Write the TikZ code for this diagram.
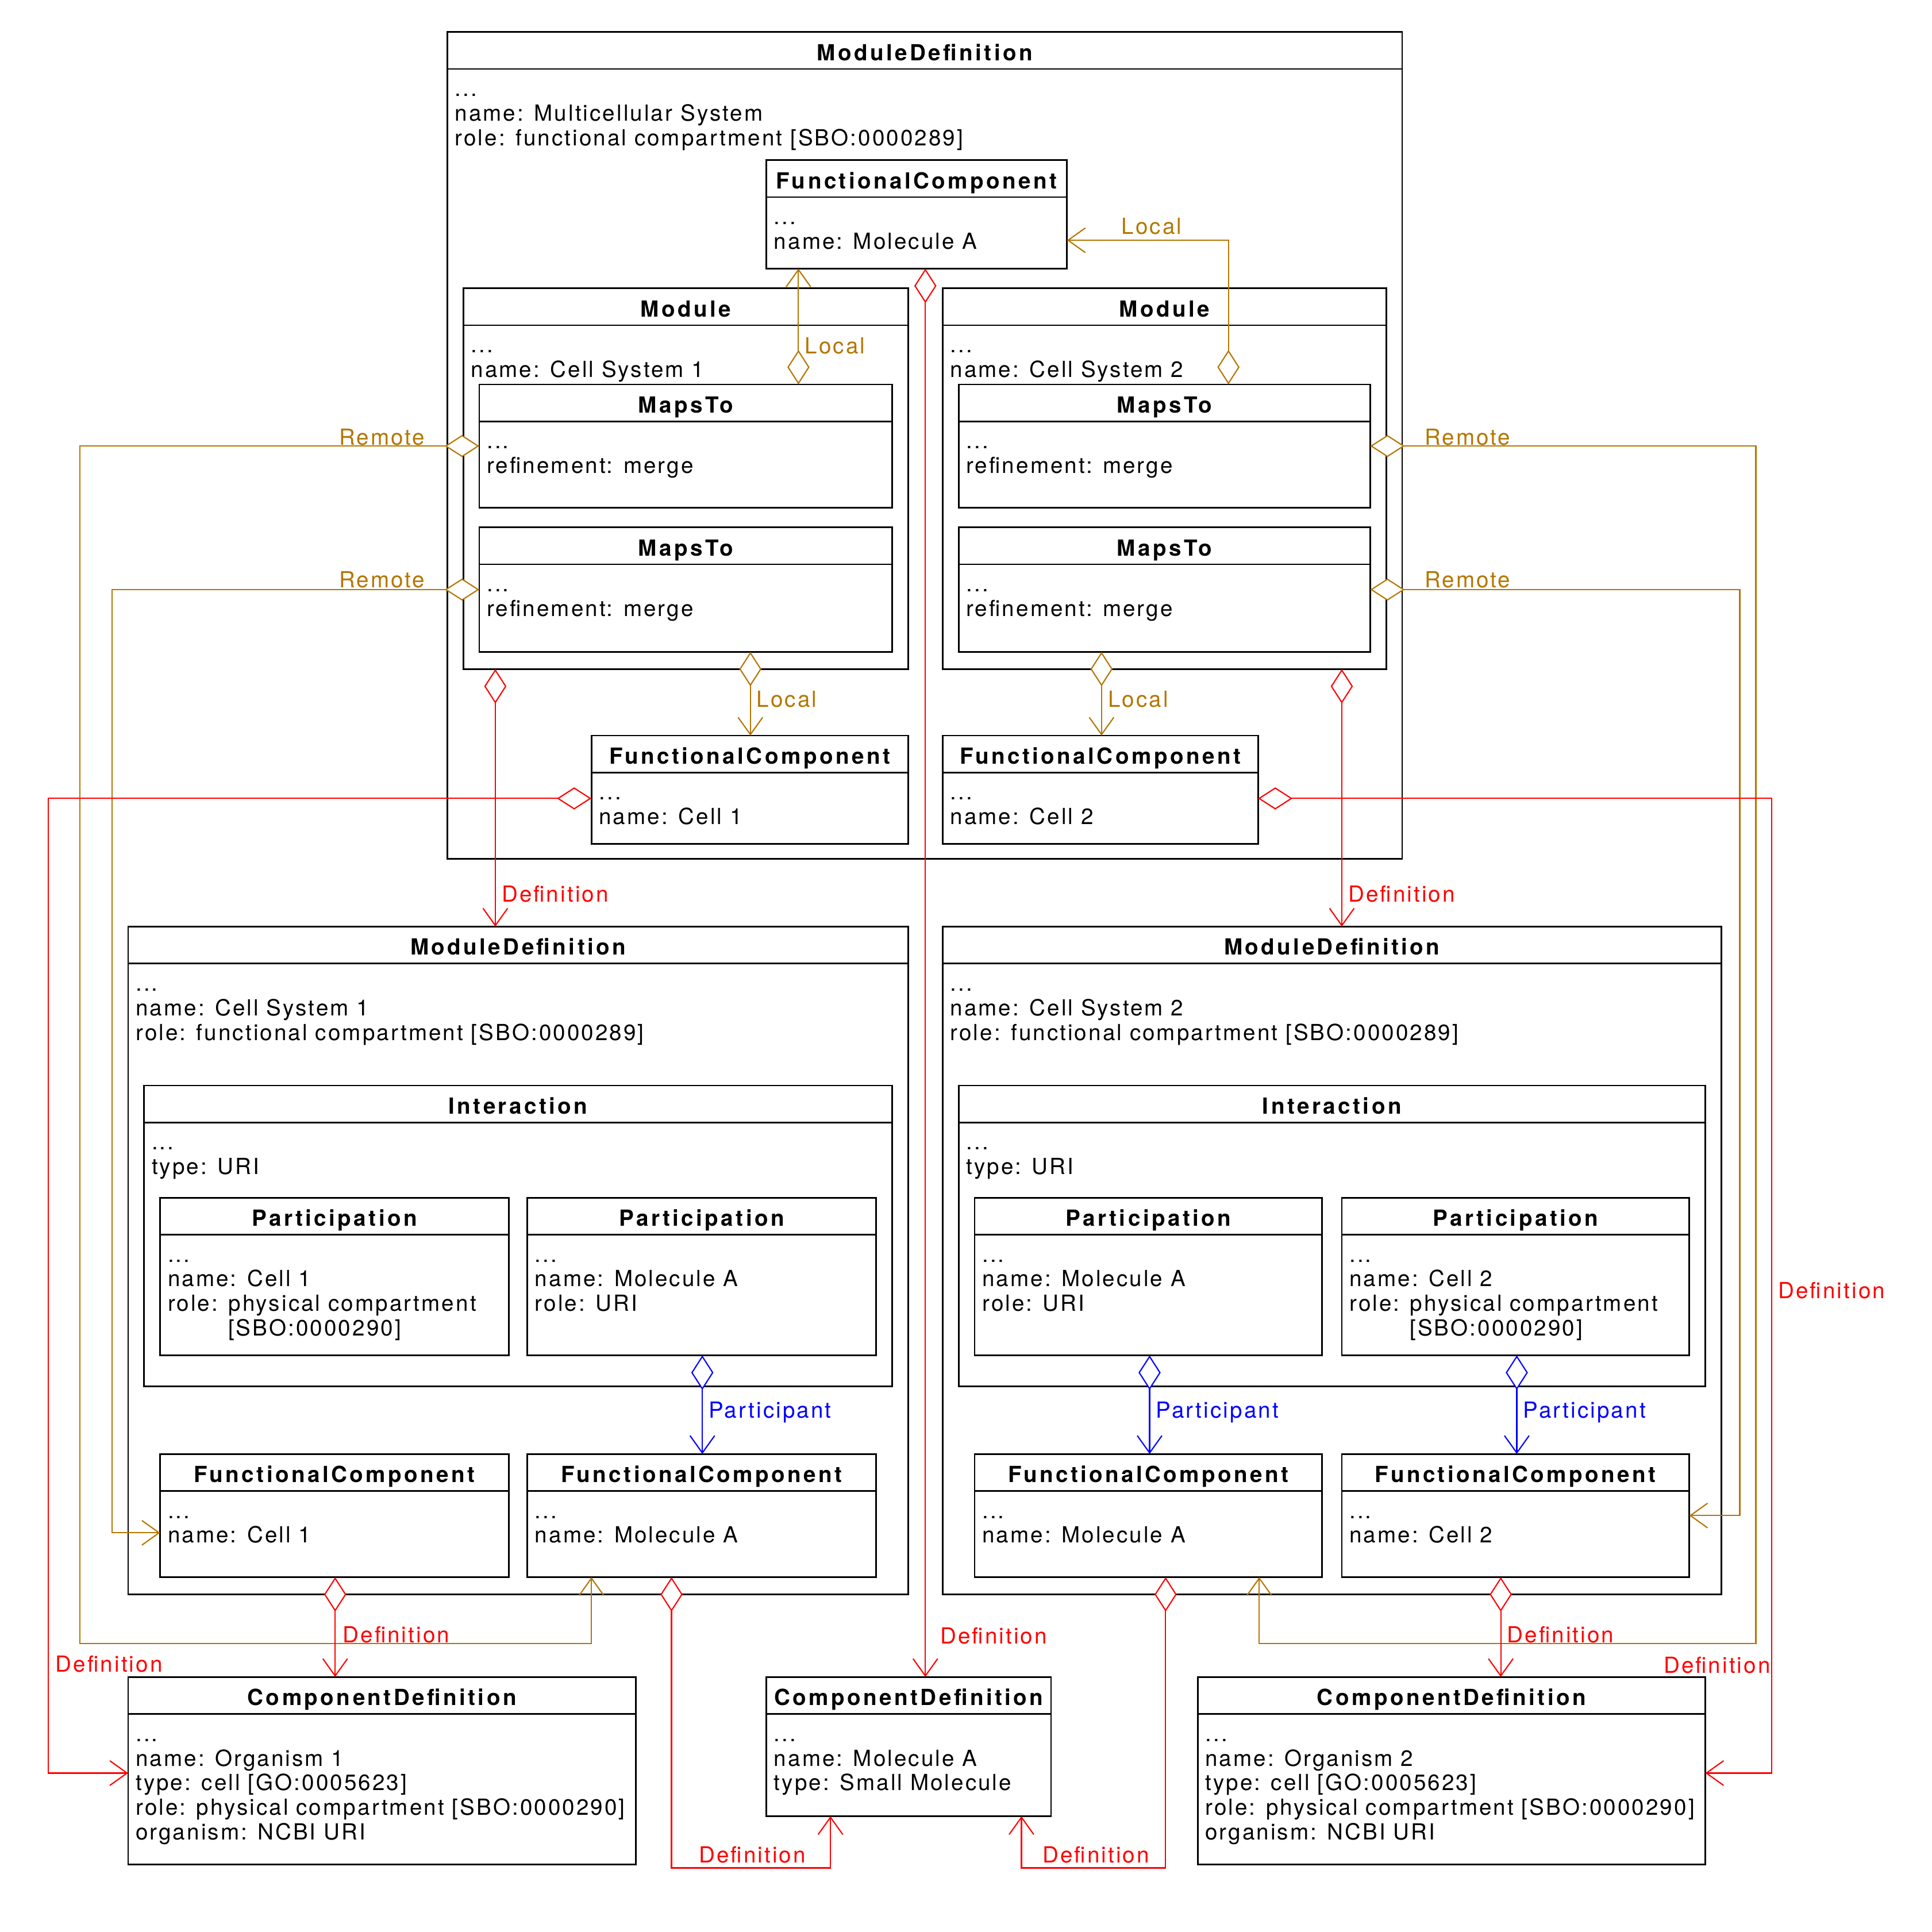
\documentclass[tikz,border=0pt]{standalone}
\usepackage{fontspec}
\setmainfont{TeX Gyre Heros}[LetterSpace=8]
\newfontfamily\ttlfont{TeX Gyre Heros}[LetterSpace=11.5]
\usetikzlibrary{arrows.meta}
\definecolor{lgold}{RGB}{180,118,0}
\tikzset{
  box/.style={draw, line width=1.3pt, outer sep=0pt, inner sep=0pt},
  sepline/.style={line width=1.3pt},
  ttl/.style={font=\ttlfont\bfseries\fontsize{18}{20}\selectfont, inner sep=0pt, anchor=base},
  bodytxt/.style={font=\fontsize{18}{20}\selectfont, align=left, inner sep=0pt, anchor=north west},
  lab/.style={font=\fontsize{18}{20}\selectfont, inner sep=0pt, anchor=base west},
  agg/.style={line width=1pt, {Diamond[length=28pt,width=18pt,fill=white,line width=1pt]}-{Straight Barb[length=14pt,width=20pt,line width=1pt]}},
}
\newcommand\umlbox[7]{%
  \node[box, minimum width={(#4-#2)*1pt}, minimum height={(#5-#3)*1pt}, anchor=north west] (#1) at (#2,#3) {};
  \draw[sepline] ([yshift=-30pt]#1.north west) -- ([yshift=-30pt]#1.north east);
  \node[ttl] (#1t) at ([yshift=-23pt]#1.north) {#6};
  \node[bodytxt] (#1b) at ([xshift=6pt,yshift=-38pt]#1.north west) {\strut #7};
}
\begin{document}
\begin{tikzpicture}[x=1pt,y=-1pt]
\useasboundingbox (0,0) rectangle (1568,1568);
% boxes
\umlbox{md0}{363}{26}{1138}{697}{ModuleDefinition}{...\\name: Multicellular System\\role: functional compartment [SBO:0000289]}
\umlbox{fcA}{622}{130}{866}{218}{FunctionalComponent}{...\\name: Molecule A}
\umlbox{mod1}{376}{234}{737}{543}{Module}{...\\name: Cell System 1}
\umlbox{mt1a}{389}{312}{724}{412}{MapsTo}{...\\refinement: merge}
\umlbox{mt1b}{389}{428}{724}{529}{MapsTo}{...\\refinement: merge}
\umlbox{mod2}{765}{234}{1125}{543}{Module}{...\\name: Cell System 2}
\umlbox{mt2a}{778}{312}{1112}{412}{MapsTo}{...\\refinement: merge}
\umlbox{mt2b}{778}{428}{1112}{529}{MapsTo}{...\\refinement: merge}
\umlbox{fcC1}{480}{597}{737}{685}{FunctionalComponent}{...\\name: Cell 1}
\umlbox{fcC2}{765}{597}{1021}{685}{FunctionalComponent}{...\\name: Cell 2}
\umlbox{md1}{104}{752}{737}{1294}{ModuleDefinition}{...\\name: Cell System 1\\role: functional compartment [SBO:0000289]}
\umlbox{int1}{117}{881}{724}{1125}{Interaction}{...\\type: URI}
\umlbox{p1a}{130}{972}{413}{1100}{Participation}{...\\name: Cell 1\\role: physical compartment\\\hspace*{49pt}[SBO:0000290]}
\umlbox{p1b}{428}{972}{711}{1100}{Participation}{...\\name: Molecule A\\role: URI}
\umlbox{fc1a}{130}{1180}{413}{1280}{FunctionalComponent}{...\\name: Cell 1}
\umlbox{fc1b}{428}{1180}{711}{1280}{FunctionalComponent}{...\\name: Molecule A}
\umlbox{md2}{765}{752}{1397}{1294}{ModuleDefinition}{...\\name: Cell System 2\\role: functional compartment [SBO:0000289]}
\umlbox{int2}{778}{881}{1384}{1125}{Interaction}{...\\type: URI}
\umlbox{p2a}{791}{972}{1073}{1100}{Participation}{...\\name: Molecule A\\role: URI}
\umlbox{p2b}{1089}{972}{1371}{1100}{Participation}{...\\name: Cell 2\\role: physical compartment\\\hspace*{49pt}[SBO:0000290]}
\umlbox{fc2a}{791}{1180}{1073}{1280}{FunctionalComponent}{...\\name: Molecule A}
\umlbox{fc2b}{1089}{1180}{1371}{1280}{FunctionalComponent}{...\\name: Cell 2}
\umlbox{cd1}{104}{1361}{516}{1513}{ComponentDefinition}{...\\name: Organism 1\\type: cell [GO:0005623]\\role: physical compartment [SBO:0000290]\\organism: NCBI URI}
\umlbox{cdA}{622}{1361}{853}{1474}{ComponentDefinition}{...\\name: Molecule A\\type: Small Molecule}
\umlbox{cd2}{972}{1361}{1384}{1513}{ComponentDefinition}{...\\name: Organism 2\\type: cell [GO:0005623]\\role: physical compartment [SBO:0000290]\\organism: NCBI URI}
% gold: local / remote
\draw[agg, lgold] (mt2a.north -| 997,0) |- (fcA.east |- 0,195);
\draw[agg, lgold] (mt1a.north -| 648,0) -- (fcA.south -| 648,0);
\draw[agg, lgold] (mt1b.south -| 609,0) -- (fcC1.north -| 609,0);
\draw[agg, lgold] (mt2b.south -| 894,0) -- (fcC2.north -| 894,0);
\draw[agg, lgold] (mt1a.west) -| (65,1334) -| (fc1b.south -| 480,0);
\draw[agg, lgold] (mt1b.west) -| (91,1244) -- (fc1a.west |- 0,1244);
\draw[agg, lgold] (mt2a.east) -| (1425,1334) -| (fc2a.south -| 1022,0);
\draw[agg, lgold] (mt2b.east) -| (fc2b.east -| 1412,0) -- (fc2b.east);
% red: definitions
\draw[agg, red] (mod1.south -| 402,0) -- (md1.north -| 402,0);
\draw[agg, red] (mod2.south -| 1089,0) -- (md2.north -| 1089,0);
\draw[agg, red] (fcA.south -| 751,0) -- (cdA.north -| 751,0);
\draw[agg, red] (fcC1.west |- 0,648) -| (39,1439) -- (cd1.west |- 0,1439);
\draw[agg, red] (fcC2.east |- 0,648) -| (1438,1439) -- (cd2.east |- 0,1439);
\draw[agg, red] (fc1a.south -| 272,0) -- (cd1.north -| 272,0);
\draw[agg, red] (fc1b.south -| 545,0) |- (674,1516) -- (cdA.south -| 674,0);
\draw[agg, red] (fc2a.south -| 946,0) |- (829,1516) -- (cdA.south -| 829,0);
\draw[agg, red] (fc2b.south -| 1218,0) -- (cd2.north -| 1218,0);
% blue: participants
\draw[agg, blue] (p1b.south -| 570,0) -- (fc1b.north -| 570,0);
\draw[agg, blue] (p2a.south -| 933,0) -- (fc2a.north -| 933,0);
\draw[agg, blue] (p2b.south -| 1231,0) -- (fc2b.north -| 1231,0);
% labels
\node[lab, lgold] (l1) at (910,190) {Local};
\node[lab, lgold] (l2) at (653,287) {Local};
\node[lab, lgold] (l3) at (614,574) {Local};
\node[lab, lgold] (l4) at (899,574) {Local};
\node[lab, lgold] (l5) at (275,361) {Remote};
\node[lab, lgold] (l6) at (275,477) {Remote};
\node[lab, lgold] (l7) at (1156,361) {Remote};
\node[lab, lgold] (l8) at (1156,477) {Remote};
\node[lab, red] (d1) at (407,732) {Definition};
\node[lab, red] (d2) at (1094,732) {Definition};
\node[lab, red] (d3) at (1443,1054) {Definition};
\node[lab, red] (d4) at (278,1333) {Definition};
\node[lab, red] (d5) at (45,1357) {Definition};
\node[lab, red] (d6) at (763,1334) {Definition};
\node[lab, red] (d7) at (1223,1333) {Definition};
\node[lab, red] (d8) at (1350,1358) {Definition};
\node[lab, red] (d9) at (567,1512) {Definition};
\node[lab, red] (d10) at (846,1512) {Definition};
\node[lab, blue] (q1) at (575,1151) {Participant};
\node[lab, blue] (q2) at (938,1151) {Participant};
\node[lab, blue] (q3) at (1236,1151) {Participant};
\end{tikzpicture}
\end{document}
